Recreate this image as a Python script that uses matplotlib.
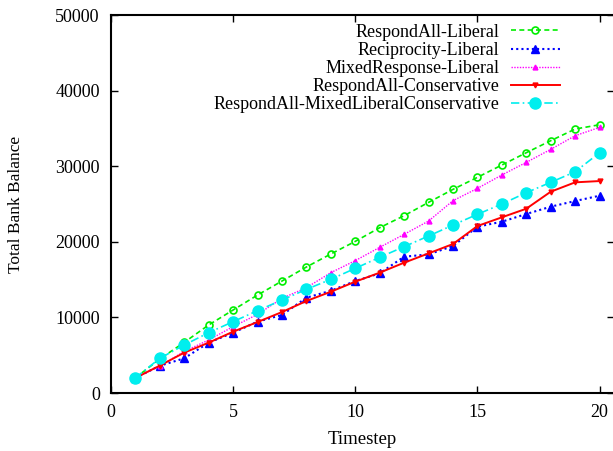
import matplotlib
import matplotlib.pyplot as plt

matplotlib.use("Agg")

timesteps = list(range(1, 21))

respond_all_liberal = [2000, 4500, 6700, 9000, 10980, 12960, 14810, 16670, 18390, 20060,
                       21870, 23460, 25220, 26940, 28530, 30160, 31790, 33380, 34920, 35490]
reciprocity_liberal = [2000, 3600, 4590, 6660, 7980, 9440, 10320, 12610, 13530, 14810,
                       15830, 18030, 18340, 19440, 22000, 22660, 23680, 24650, 25400, 26100]
mixed_response_liberal = [2000, 3570, 5500, 7010, 8780, 10400, 12520, 13930, 15920, 17510,
                          19270, 20990, 22750, 25440, 27070, 28840, 30510, 32230, 34040, 35140]
respond_all_conservative = [2000, 3620, 5340, 6660, 8110, 9390, 10710, 12170, 13400, 14730,
                            15920, 17240, 18470, 19710, 22090, 23240, 24380, 26630, 27870, 28040]
respond_all_mixed = [2000, 4590, 6350, 7980, 9440, 10890, 12300, 13710, 15040, 16490,
                     17950, 19360, 20770, 22220, 23640, 25000, 26500, 27870, 29270, 31790]

series = [
    ("RespondAll-Liberal", respond_all_liberal,
     dict(color="#00ee00", linestyle=(0, (3, 2)), marker="o", markersize=5,
          markerfacecolor="none", markeredgewidth=1.2, linewidth=1.2)),
    ("Reciprocity-Liberal", reciprocity_liberal,
     dict(color="#0000ff", linestyle=(0, (1, 1.5)), marker="^", markersize=6,
          linewidth=1.5)),
    ("MixedResponse-Liberal", mixed_response_liberal,
     dict(color="#ff00ff", linestyle=(0, (1, 1)), marker="^", markersize=3.5,
          linewidth=1.0)),
    ("RespondAll-Conservative", respond_all_conservative,
     dict(color="#ff0000", linestyle="-", marker="v", markersize=3.5,
          linewidth=1.4)),
    ("RespondAll-MixedLiberalConservative", respond_all_mixed,
     dict(color="#00eeee", linestyle=(0, (5, 2, 1, 2)), marker="o", markersize=8,
          linewidth=1.2)),
]

plt.rcParams["font.family"] = ["Liberation Serif", "DejaVu Serif"]
plt.rcParams["font.size"] = 13

fig = plt.figure(figsize=(6.13, 4.51), dpi=100)
ax = fig.add_axes([0.181, 0.1286, 0.821, 0.838])

for label, values, style in series:
    ax.plot(timesteps, values, label=label, **style)

ax.set_xlim(0, 20.6)
ax.set_ylim(0, 50000)
ax.set_xticks([0, 5, 10, 15, 20])
ax.set_yticks(range(0, 50001, 10000))
ax.tick_params(direction="in", top=True, right=True, length=5, width=1,
               pad=8, labelsize=13)
for spine in ax.spines.values():
    spine.set_linewidth(1.5)

ax.set_xlabel("Timestep", fontsize=13.5)
ax.set_ylabel("Total Bank Balance", fontsize=12.5)
ax.xaxis.set_label_coords(0.5, -0.100)
ax.yaxis.set_label_coords(-0.172, 0.5)

ax.legend(loc="upper right", bbox_to_anchor=(0.915, 1.008), frameon=False,
          markerfirst=False, handlelength=2.7, labelspacing=0.06,
          handletextpad=0.65, borderaxespad=0.25, fontsize=13)

fig.savefig("out.png", dpi=100)
